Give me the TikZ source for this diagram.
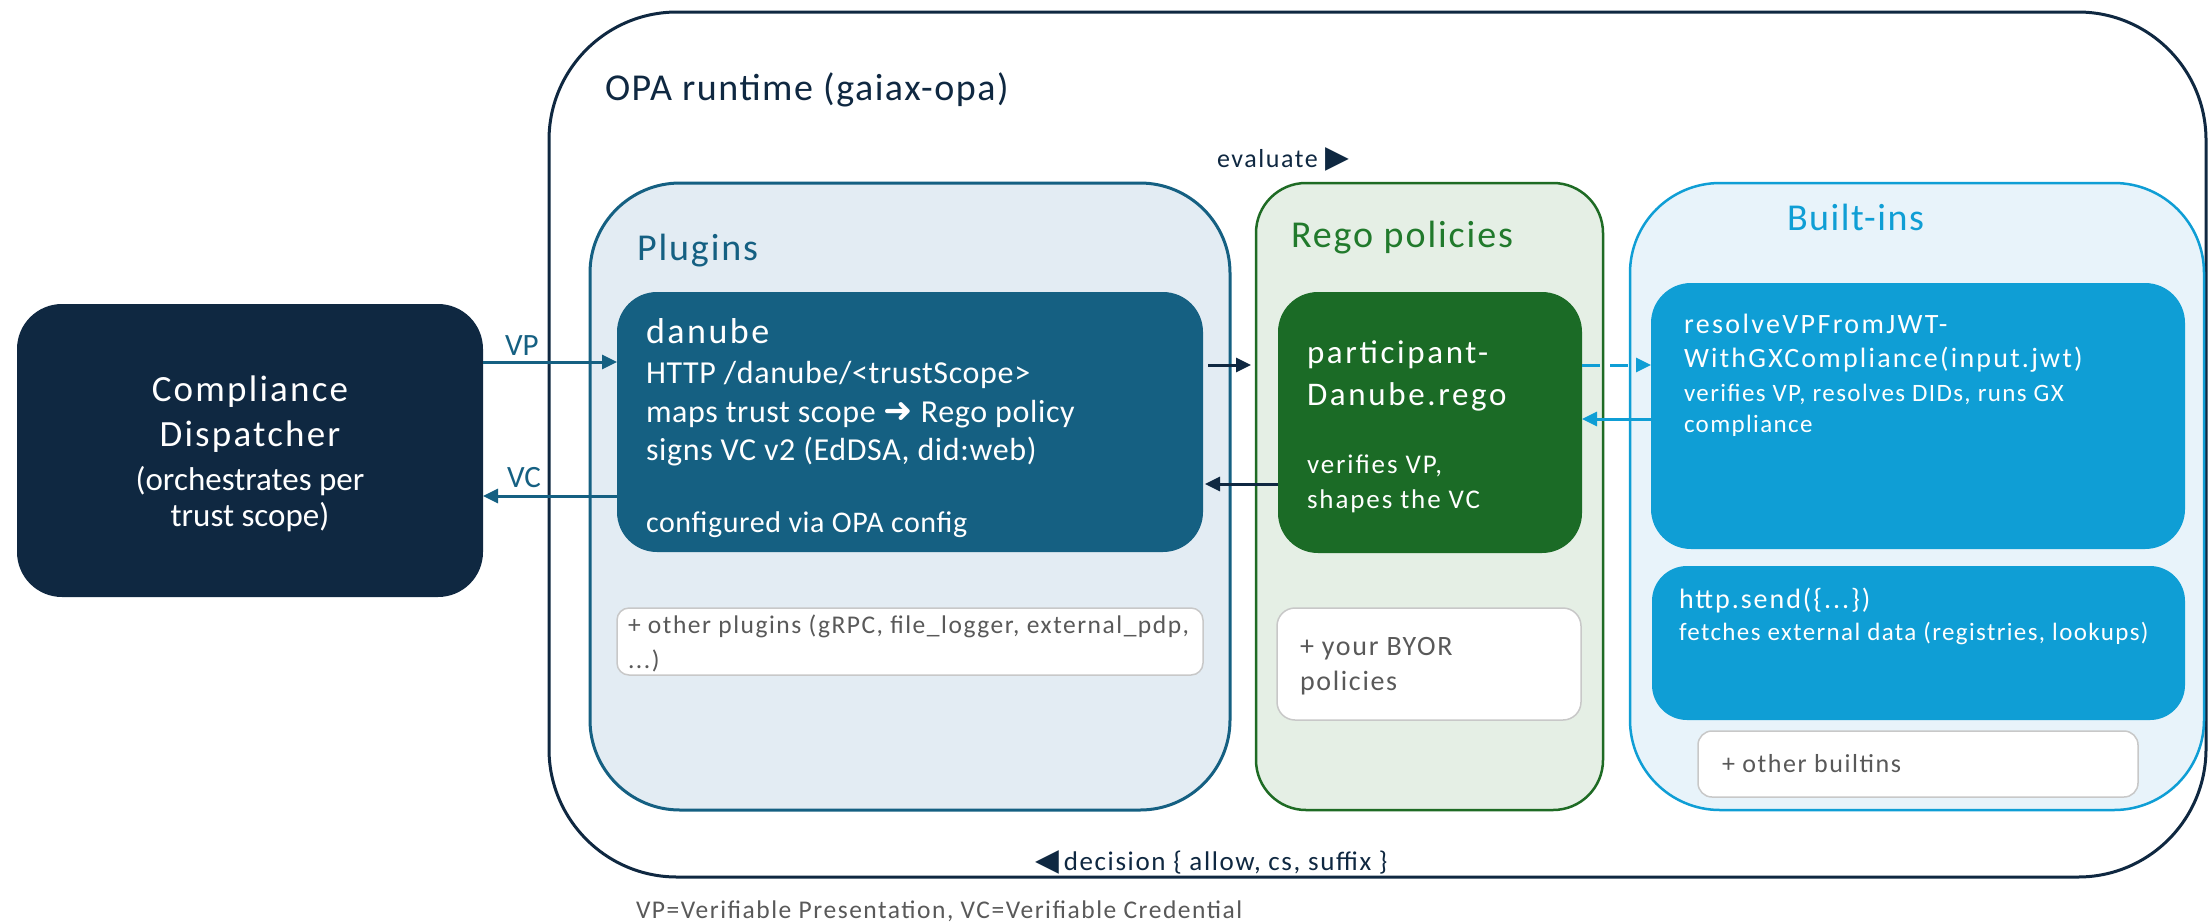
\documentclass[tikz,border=0pt]{standalone}
\usepackage{fontspec}
\setmainfont{Carlito}
\newfontfamily\dejavu{DejaVu Sans}
\usetikzlibrary{arrows.meta,fit}
\definecolor{cNavy}{HTML}{0F2841}
\definecolor{cTeal}{HTML}{156082}
\definecolor{cPlugFill}{HTML}{E3ECF3}
\definecolor{cGreen}{HTML}{1E6B24}
\definecolor{cGreenDark}{HTML}{1B6B26}
\definecolor{cRegoFill}{HTML}{E5EFE5}
\definecolor{cRegoTitle}{HTML}{217A2C}
\definecolor{cBlue}{HTML}{0F9ED5}
\definecolor{cBuiltFill}{HTML}{E8F3FA}
\definecolor{cGrayT}{HTML}{595959}
\definecolor{cGrayLine}{HTML}{C8C8C8}
\newcommand\fs[2]{\fontsize{#1}{#1}\selectfont\addfontfeature{LetterSpace=#2}}
\begin{document}
\begin{tikzpicture}[x=1pt,y=-1pt,
  rbox/.style={rounded corners=#1, inner sep=0pt, outer sep=0pt},
  txt/.style={anchor=base west, inner sep=0pt, outer sep=0pt},
  ctxt/.style={anchor=base, inner sep=0pt, outer sep=0pt},
  arr/.style={line width=3pt, -{Triangle[length=15pt,width=14pt]}},
  graybox/.style={draw=cGrayLine, fill=white, line width=1.5pt}]
\fill[white] (0,0) rectangle (2209,922);
\useasboundingbox (0,0) rectangle (2209,922);

% containers
\node[rbox=128, draw=cNavy, line width=3pt, fit={(549,12) (2206,877)}] (opa) {};
\node[rbox=90, draw=cTeal, fill=cPlugFill, line width=3pt, fit={(590,183) (1230,810)}] (plugins) {};
\node[rbox=50, draw=cGreen, fill=cRegoFill, line width=2.5pt, fit={(1256,183) (1603,810)}] (rego) {};
\node[rbox=90, draw=cBlue, fill=cBuiltFill, line width=2.5pt, fit={(1630,183) (2204,810)}] (builtins) {};

% boxes
\node[rbox=45, fill=cNavy, fit={(17,304) (483,597)}] (disp) {};
\node[rbox=40, fill=cTeal, fit={(617,292) (1203,552)}] (danube) {};
\node[rbox=40, fill=cGreenDark, fit={(1278,292) (1582,553)}] (part) {};
\node[rbox=40, fill=cBlue, fit={(1651,283) (2185,549)}] (resolve) {};
\node[rbox=35, fill=cBlue, fit={(1652,566) (2185,720)}] (http) {};
\node[rbox=12, graybox, fit={(617,608) (1203,675)}] (otherplug) {};
\node[rbox=18, graybox, fit={(1277,608) (1581,720)}] (byor) {};
\node[rbox=14, graybox, fit={(1698,731) (2138,797)}] (otherbi) {};

% connectors
\coordinate (yVP) at (0,362);
\coordinate (yVC) at (0,496);
\coordinate (yEv) at (0,365);
\coordinate (yRet) at (0,484);
\coordinate (yBi) at (0,419);
\draw[arr, cTeal] (disp.east |- yVP) -- (danube.west |- yVP);
\draw[arr, cTeal] (danube.west |- yVC) -- (disp.east |- yVC);
\draw[arr, cNavy, shorten <=5pt, shorten >=5pt] (danube.east |- yEv) -- (rego.west |- yEv);
\draw[arr, cNavy, shorten >=2pt] (part.west |- yRet) -- (danube.east |- yRet);
\draw[arr, cBlue, dash pattern=on 18pt off 10pt] (part.east |- yEv) -- (resolve.west |- yEv);
\draw[arr, cBlue] (resolve.west |- yBi) -- (part.east |- yBi);

% labels
\node[txt, font=\fs{31}{0}, text=cTeal] (vpL) at (505,355) {VP};
\node[txt, font=\fs{31}{0}, text=cTeal] (vcL) at (507,487) {VC};
\node[txt, font=\fs{38}{4}, text=cNavy] (opaT) at (605,100) {OPA runtime (gaiax-opa)};
\node[txt, font=\fs{26}{6}, text=cNavy] (evalT) at (1217,167) {evaluate {\dejavu\fontsize{31}{31}\selectfont ▶}};
\node[txt, font=\fs{27}{6}, text=cNavy] (decT) at (1035,870) {{\dejavu\fontsize{31}{31}\selectfont ◀}\hspace{5pt}decision \{ allow, cs, suffix \}};

% dispatcher
\node[ctxt, font=\fs{37}{6}, text=white] (d1) at (250,401) {Compliance};
\node[ctxt, font=\fs{37}{6}, text=white] (d2) at (250,446) {Dispatcher};
\node[ctxt, font=\fs{33}{0}, text=white] (d3) at (250,490) {(orchestrates per};
\node[ctxt, font=\fs{33}{0}, text=white] (d4) at (250,526) {trust scope)};

% titles
\node[txt, font=\fs{38}{5}, text=cTeal] (plugT) at (637,260) {Plugins};
\node[txt, font=\fs{38}{5}, text=cRegoTitle] (regoT) at (1291,247) {Rego policies};
\node[txt, font=\fs{38}{4}, text=cBlue] (biT) at (1787,230) {Built-ins};

% danube
\node[txt, font=\fs{36}{7}, text=white] (dn1) at (646,343) {danube};
\node[txt, font=\fs{32}{2}, text=white] (dn2) at (646,383) {HTTP /danube/<trustScope>};
\node[txt, font=\fs{32}{2}, text=white] (dn3) at (646,422) {maps trust scope {\dejavu\fontsize{35}{35}\selectfont ➜} Rego policy};
\node[txt, font=\fs{32}{2}, text=white] (dn4) at (646,460) {signs VC v2 (EdDSA, did:web)};
\node[txt, font=\fs{30}{2}, text=white] (dn5) at (646,532) {configured via OPA config};

% participant
\node[txt, font=\fs{33}{8}, text=white] (p1) at (1307,363) {participant-};
\node[txt, font=\fs{33}{8}, text=white] (p2) at (1307,405) {Danube.rego};
\node[txt, font=\fs{27}{7}, text=white] (p3) at (1307,473) {verifies VP,};
\node[txt, font=\fs{27}{7}, text=white] (p4) at (1307,508) {shapes the VC};

% resolve
\node[txt, font=\fs{28}{8.5}, text=white] (r1) at (1684,333) {resolveVPFromJWT-};
\node[txt, font=\fs{28}{8}, text=white] (r2) at (1684,367) {WithGXCompliance(input.jwt)};
\node[txt, font=\fs{25}{5.5}, text=white] (r3) at (1684,401) {verifies VP, resolves DIDs, runs GX};
\node[txt, font=\fs{25}{5.5}, text=white] (r4) at (1684,432) {compliance};

% http
\node[txt, font=\fs{28}{7}, text=white] (h1) at (1679,608) {http.send(\{...\})};
\node[txt, font=\fs{25}{5.5}, text=white] (h2) at (1679,640) {fetches external data (registries, lookups)};

% others
\node[txt, font=\fs{25.5}{6}, text=cGrayT] (o1) at (628,633) {+ other plugins (gRPC, file\_logger, external\_pdp,};
\node[txt, font=\fs{25.5}{6}, text=cGrayT] (o2) at (628,668) {...)};
\node[txt, font=\fs{28}{6}, text=cGrayT] (b1) at (1300,655) {+ your BYOR};
\node[txt, font=\fs{28}{6}, text=cGrayT] (b2) at (1300,690) {policies};
\node[txt, font=\fs{26}{6}, text=cGrayT] (ob) at (1722,772) {+ other builtins};
\node[txt, font=\fs{25.5}{6}, text=cGrayT] (fn) at (636,918) {VP=Verifiable Presentation, VC=Verifiable Credential};
\end{tikzpicture}
\end{document}
